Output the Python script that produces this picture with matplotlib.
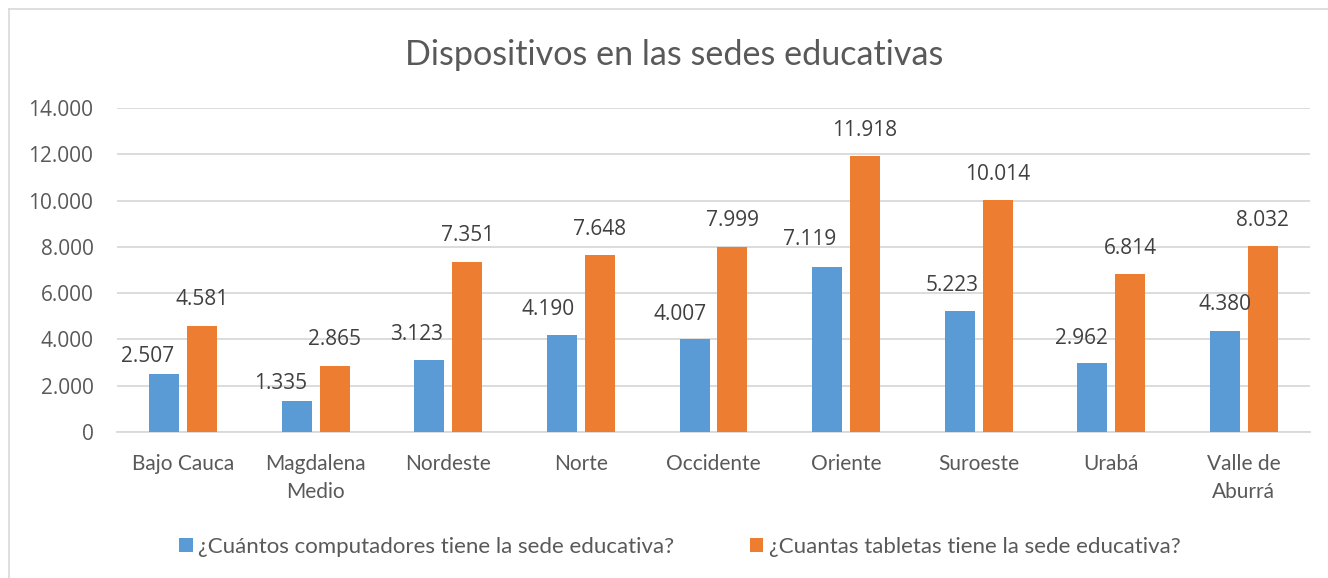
import matplotlib
matplotlib.use("Agg")
import matplotlib.pyplot as plt
from matplotlib.lines import Line2D
from matplotlib.patches import Patch
import numpy as np

regions = ["Bajo Cauca", "Magdalena\nMedio", "Nordeste", "Norte", "Occidente",
           "Oriente", "Suroeste", "Urabá", "Valle de\nAburrá"]
computadores = [2507, 1335, 3123, 4190, 4007, 7119, 5223, 2962, 4380]
tabletas = [4581, 2865, 7351, 7648, 7999, 11918, 10014, 6814, 8032]
series_names = ["¿Cuántos computadores tiene la sede educativa?",
                "¿Cuantas tabletas tiene la sede educativa?"]

# hand-moved labels in the original (pixel nudges for the blue series)
blue_dx = [-17, -16, -13, -14, -14, -17, -8, -11, 0]
blue_dy = [-9, -8, -1, 0, -1, 2, 0, -1, 0]

BLUE = "#5B9BD5"
ORANGE = "#ED7D31"
GRID = "#D9D9D9"
TXT = "#595959"
LBL = "#404040"
NUM_FONT = ["Open Sans", "DejaVu Sans"]

plt.rcParams["font.family"] = ["Lato", "DejaVu Sans"]


def fmt(v):
    return f"{v:,}".replace(",", ".")


fig = plt.figure(figsize=(13.28, 5.78), dpi=100)
ax = fig.add_axes([117 / 1328, 1 - 432 / 578, (1310 - 117) / 1328, (432 - 108) / 578])

x = np.arange(len(regions))
off, w = 0.143, 0.226
b1 = ax.bar(x - off, computadores, w, color=BLUE, zorder=3)
b2 = ax.bar(x + off, tabletas, w, color=ORANGE, zorder=3)

px = 0.72  # points per pixel at dpi 100
for i, r in enumerate(b1):
    ax.annotate(fmt(computadores[i]), (r.get_x() + r.get_width() / 2, r.get_height()),
                xytext=(blue_dx[i] * px, (26 + blue_dy[i]) * px), textcoords="offset points",
                ha="center", va="center", fontsize=15, color=LBL, family=NUM_FONT, zorder=4)
for i, r in enumerate(b2):
    ax.annotate(fmt(tabletas[i]), (r.get_x() + r.get_width() / 2, r.get_height()),
                xytext=(0, 26 * px), textcoords="offset points",
                ha="center", va="center", fontsize=15, color=LBL, family=NUM_FONT, zorder=4)

ax.set_xlim(-0.5, len(regions) - 0.5)
ax.set_ylim(0, 14000)
ax.set_yticks(np.arange(0, 14001, 2000))
ax.set_yticklabels([fmt(v) for v in range(0, 14001, 2000)], family=NUM_FONT)
ax.set_xticks(x)
ax.set_xticklabels(regions, linespacing=1.5)
ax.tick_params(axis="both", length=0, labelsize=15, labelcolor=TXT)
ax.tick_params(axis="y", pad=17)
ax.tick_params(axis="x", pad=16)
ax.grid(axis="y", color=GRID, linewidth=1.3, zorder=0)
for s in ["top", "right", "left"]:
    ax.spines[s].set_visible(False)
ax.spines["bottom"].set_color(GRID)
ax.spines["bottom"].set_linewidth(1.3)

fig.text(674 / 1328, 1 - 55 / 578, "Dispositivos en las sedes educativas",
         ha="center", va="center", fontsize=24.6, color=TXT)

handles = [Patch(facecolor=BLUE), Patch(facecolor=ORANGE)]
fig.legend(handles, series_names, loc="center", bbox_to_anchor=(680 / 1328, 1 - 547 / 578),
           ncol=2, frameon=False, fontsize=16, labelcolor=TXT, handlelength=0.6,
           handleheight=0.6, handletextpad=0.25, columnspacing=3.4)

# chart frame (only left/top edges show in the crop)
fig.add_artist(Line2D([9 / 1328, 9 / 1328], [0, 1 - 9 / 578], color=GRID, linewidth=1.2))
fig.add_artist(Line2D([9 / 1328, 1], [1 - 9 / 578, 1 - 9 / 578], color=GRID, linewidth=1.2))

fig.savefig("out.png", dpi=100)
